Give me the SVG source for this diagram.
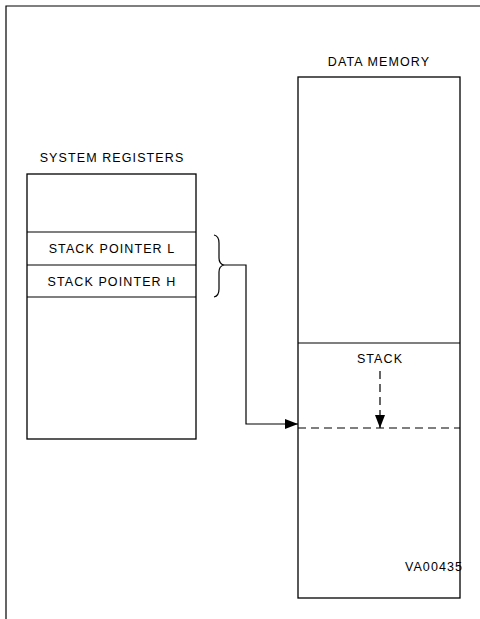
<svg xmlns="http://www.w3.org/2000/svg" width="480" height="619" viewBox="0 0 480 619">
<style>
text{font-family:"Liberation Sans",Arial,sans-serif;font-size:12.5px;fill:#000;letter-spacing:1.1px}
.box{fill:none;stroke:#000;stroke-width:1.3}
.ln{fill:none;stroke:#000;stroke-width:1.2}
.dash{fill:none;stroke:#000;stroke-width:1.2;stroke-dasharray:8,5}
</style>
<defs>
<marker id="ah" markerWidth="13" markerHeight="10" refX="13" refY="5" orient="auto" markerUnits="userSpaceOnUse">
<path d="M0,0 L13,5 L0,10 Z" fill="#000"/>
</marker>
</defs>
<g id="frame">
<path class="ln" d="M6,619 V6 H480"/>
</g>
<g id="system-registers">
<text x="112" y="162" text-anchor="middle">SYSTEM REGISTERS</text>
<rect class="box" x="27" y="174" width="169" height="265"/>
<line class="ln" x1="27" y1="232" x2="196" y2="232"/>
<line class="ln" x1="27" y1="265" x2="196" y2="265"/>
<line class="ln" x1="27" y1="297" x2="196" y2="297"/>
</g>
<g id="sp-l"><text x="112" y="253" text-anchor="middle">STACK POINTER L</text></g>
<g id="sp-h"><text x="112" y="286" text-anchor="middle">STACK POINTER H</text></g>
<g id="data-memory">
<text x="379" y="66" text-anchor="middle">DATA MEMORY</text>
<rect class="box" x="298" y="77" width="162" height="521"/>
<line class="ln" x1="298" y1="343" x2="460" y2="343"/>
</g>
<g id="stack">
<text x="380" y="363" text-anchor="middle">STACK</text>
<line class="dash" x1="298" y1="428" x2="460" y2="428"/>
</g>
<g id="label"><text x="434" y="571" text-anchor="middle">VA00435</text></g>
<g id="connectors">
<path class="ln" d="M214,235 Q219,236 219,243 V258 Q219,264 224,265 Q219,266 219,272 V289 Q219,296 214,297"/>
<path class="ln" d="M224,265 H246 V424 H298" marker-end="url(#ah)"/>
<path class="dash" d="M380,371 V428" marker-end="url(#ah)"/>
</g>
</svg>
